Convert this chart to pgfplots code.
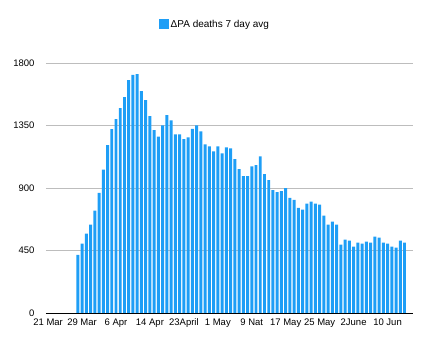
\documentclass[border=0pt]{standalone}
\usepackage{fontspec}
\setmainfont{Liberation Sans}
\usepackage{pgfplots}
\pgfplotsset{compat=1.18}
\definecolor{barblue}{RGB}{30,158,246}
\begin{document}
\begin{tikzpicture}
\begin{axis}[
  at={(0,0)}, anchor=south west,
  scale only axis, width=367pt, height=250pt,
  xmin=-0.5, xmax=86, ymin=0, ymax=1800,
  ybar, bar width=0.7, bar shift=0pt,
  axis x line*=bottom, axis y line*=left,
  x axis line style={black, line width=0.9pt},
  y axis line style={draw=none},
  ytick={0,450,900,1350,1800},
  ymajorgrids, major grid style={draw=black!26, line width=0.6pt},
  xtick={0,8,16,24,32,40,48,56,64,72,80},
  xticklabels={21 Mar,29 Mar,6 Apr,14 Apr,23April,1 May,9 Nat,17 May,25 May,2June,10 Jun},
  major tick length=0pt,
  tick label style={font=\fontsize{9.5}{11}\selectfont},
  /pgf/number format/assume math mode=true,
  /pgf/number format/1000 sep={},
  yticklabel style={xshift=-8pt},
  xticklabel style={yshift=-2pt},
  legend style={at={(axis description cs:0.46,1.152)}, anchor=center, draw=none, font=\fontsize{10}{12}\selectfont},
  legend image code/.code={\fill[barblue] (-3pt,-4.5pt) rectangle (7pt,5.5pt);},
]
\addplot[fill=barblue, draw=none] coordinates {
(7,419) (8,500) (9,572) (10,637) (11,737) (12,864) (13,1032) (14,1209) (15,1324) (16,1396)
(17,1475) (18,1554) (19,1676) (20,1714) (21,1719) (22,1597) (23,1532) (24,1417) (25,1317) (26,1269)
(27,1350) (28,1424) (29,1386) (30,1286) (31,1286) (32,1252) (33,1265) (34,1326) (35,1350) (36,1307)
(37,1214) (38,1200) (39,1164) (40,1200) (41,1150) (42,1193) (43,1185) (44,1107) (45,1035) (46,985)
(47,985) (48,1056) (49,1064) (50,1128) (51,999) (52,956) (53,884) (54,870) (55,877) (56,899)
(57,829) (58,815) (59,757) (60,744) (61,787) (62,802) (63,787) (64,780) (65,701) (66,636)
(67,658) (68,636) (69,492) (70,528) (71,521) (72,478) (73,506) (74,499) (75,514) (76,506)
(77,550) (78,542) (79,506) (80,499) (81,478) (82,470) (83,521) (84,506)
};
\addlegendentry{ΔPA deaths 7 day avg}
\end{axis}
\pgfresetboundingbox
\useasboundingbox (-46pt,-43pt) rectangle (391pt,313pt);
\end{tikzpicture}
\end{document}
